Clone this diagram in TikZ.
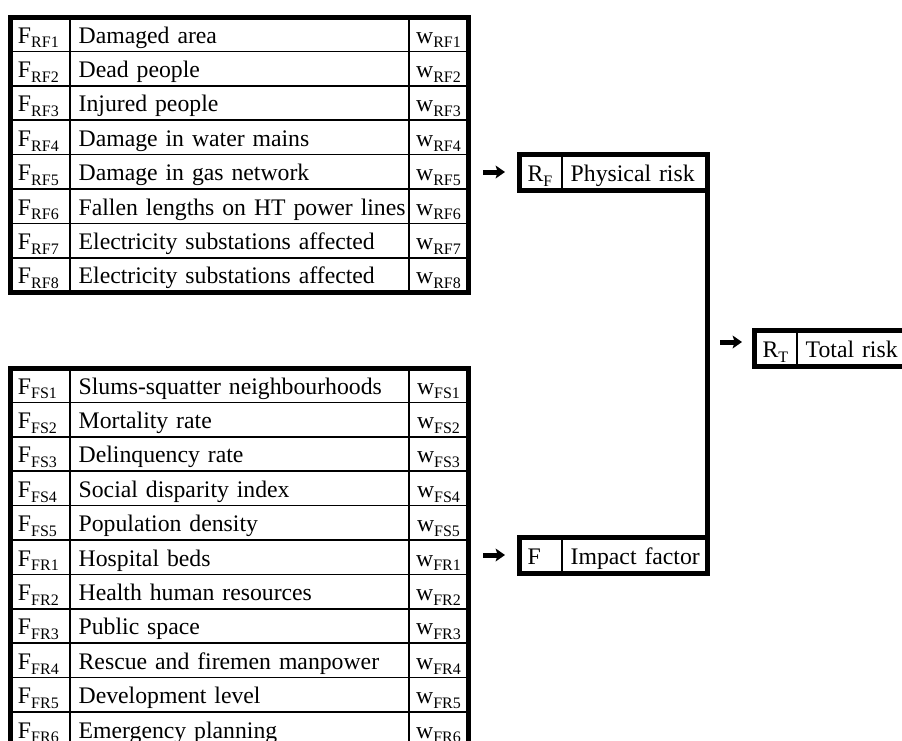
\documentclass[tikz,border=0pt]{standalone}
\usepackage{fontspec}
\setmainfont{Liberation Serif}[WordSpace=0.8]
\usetikzlibrary{positioning,arrows.meta}
\newcommand\lowsub[1]{\raisebox{-3.7pt}{\fontsize{12pt}{12pt}\selectfont #1}}
\tikzset{
  cell/.style={draw,line width=1.1pt,inner ysep=0pt,outer sep=0pt,
               minimum height=25.8pt,text height=15pt,text depth=1.8pt},
  codecell/.style={cell,inner xsep=1.5pt,text width=42pt,align=left,
                   execute at begin node={\hspace*{4.5pt}}},
  labelcell/.style={cell,inner xsep=1.5pt,text width=251.25pt,align=left,
                    execute at begin node={\hspace*{5pt}}},
  wcell/.style={cell,inner xsep=0pt,text width=44.25pt,align=center},
  symcell/.style={cell,minimum height=27pt,inner xsep=1.5pt,text width=28.9pt,align=left,
                  execute at begin node={\hspace*{4.5pt}}},
  namecell/.style={cell,minimum height=27pt,inner xsep=1.5pt,text width=106.1pt,align=left,
                   execute at begin node={\hspace*{5pt}}},
  frame/.style={line width=3.75pt},
  pointer/.style={line width=3.75pt,-{Stealth[length=7pt,width=9.6pt,inset=1.5pt]}}
}
\begin{document}
\begin{tikzpicture}[x=0.75pt,y=-0.75pt,node distance=0pt,font=\fontsize{17.8pt}{21pt}\selectfont]
  \clip (0,0) rectangle (902,740);
  % physical risk factors
  \foreach \k/\txt [count=\i] in {RF1/Damaged area,RF2/Dead people,RF3/Injured people,
      RF4/Damage in water mains,RF5/Damage in gas network,RF6/Fallen lengths on HT power lines,
      RF7/Electricity substations affected,RF8/Electricity substations affected}{
    \node[codecell,anchor=north west] (rf\i) at (10,{17+(\i-1)*34.4}) {F\lowsub{\k}};
    \node[labelcell,right=of rf\i] (rfl\i) {\txt};
    \node[wcell,right=of rfl\i] (rfw\i) {w\lowsub{\k}};
  }
  \draw[frame] (rf1.north west) rectangle (rfw8.south east);
  % impact factor descriptors
  \foreach \k/\txt [count=\i] in {FS1/Slums-squatter neighbourhoods,FS2/Mortality rate,
      FS3/Delinquency rate,FS4/Social disparity index,FS5/Population density,
      FR1/Hospital beds,FR2/Health human resources,FR3/Public space,
      FR4/Rescue and firemen manpower,FR5/Development level,FR6/Emergency planning}{
    \node[codecell,anchor=north west] (fs\i) at (10,{368+(\i-1)*34.4}) {F\lowsub{\k}};
    \node[labelcell,right=of fs\i] (fsl\i) {\txt};
    \node[wcell,right=of fsl\i] (fsw\i) {w\lowsub{\k}};
  }
  \draw[frame] (fs1.north west) rectangle (fsw11.south east);
  % result boxes
  \node[symcell,anchor=north west] (rf) at (519.5,154.5) {R\lowsub{F}};
  \node[namecell,right=of rf] (rfname) {Physical risk};
  \draw[frame] (rf.north west) rectangle (rfname.south east);
  \node[symcell,anchor=north west] (f) at (519.5,537.5) {F};
  \node[namecell,right=of f] (fname) {Impact factor};
  \draw[frame] (f.north west) rectangle (fname.south east);
  \node[symcell,anchor=north west] (rt) at (754.5,330.5) {R\lowsub{T}};
  \node[namecell,right=of rt] (rtname) {Total risk};
  \draw[frame] (rt.north west) rectangle (rtname.south east);
  \draw[frame] (rfname.south east) -- (fname.north east);
  % pointers
  \coordinate (prf0) at (483,172);  \coordinate (prf1) at (505,172);
  \coordinate (pf0) at (483,555);   \coordinate (pf1) at (505,555);
  \coordinate (prt0) at (720,342);  \coordinate (prt1) at (742,342);
  \draw[pointer] (prf0) -- (prf1);
  \draw[pointer] (pf0) -- (pf1);
  \draw[pointer] (prt0) -- (prt1);
\end{tikzpicture}
\end{document}
